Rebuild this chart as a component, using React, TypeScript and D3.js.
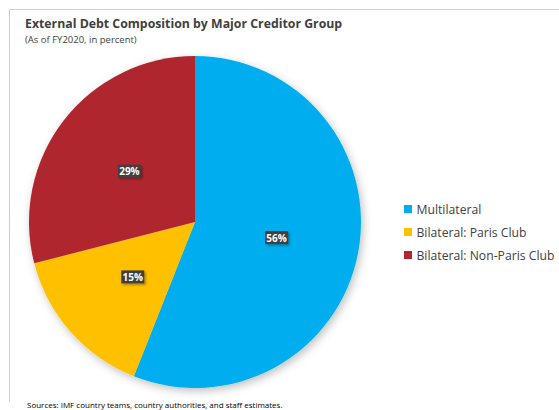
import React from "react";
import * as d3 from "d3";

const categories = ["Multilateral", "Bilateral: Paris Club", "Bilateral: Non-Paris Club"];
const values = [56, 15, 29];
const colors = ["#00AEEF", "#FFC000", "#B0272F"];

export default function App() {
  const W = 559, H = 410;
  const cx = 195, cy = 222, r = 166;
  const pie = d3.pie<number>().sort(null).value((d) => d);
  const arcs = pie(values);
  const arc = d3.arc<d3.PieArcDatum<number>>().innerRadius(0).outerRadius(r);
  const font = "'Open Sans', 'Liberation Sans', sans-serif";
  return (
    <svg width={W} height={H} style={{ position: "absolute", left: 0, top: 0 }}>
      <defs>
        <filter id="pieShadow" x="-20%" y="-20%" width="140%" height="140%">
          <feDropShadow dx="2" dy="3" stdDeviation="4" floodColor="#000" floodOpacity="0.25" />
        </filter>
        <filter id="boxShadow" x="-30%" y="-30%" width="160%" height="160%">
          <feDropShadow dx="1.5" dy="1.5" stdDeviation="1" floodColor="#000" floodOpacity="0.35" />
        </filter>
      </defs>
      <rect x={0} y={0} width={W} height={H} fill="#fff" />
      <path d={`M${W},9.5 H9.5 V402`} fill="none" stroke="#d0d0d0" strokeWidth={1} />
      <text x={25} y={28} fontFamily={font} fontWeight="bold" fontSize={12.3} fill="#404040">
        External Debt Composition by Major Creditor Group
      </text>
      <text x={25} y={43} fontFamily={font} fontSize={9.5} fill="#404040">
        (As of FY2020, in percent)
      </text>
      <g transform={`translate(${cx},${cy})`}>
        <g filter="url(#pieShadow)">
          {arcs.map((a, i) => (
            <path key={i} d={arc(a) || ""} fill={colors[i]} />
          ))}
        </g>
        {arcs.map((a, i) => {
          const [lx, ly] = arc.centroid(a);
          return (
            <g key={"l" + i} transform={`translate(${lx},${ly})`}>
              <rect x={-11.5} y={-6.5} width={23} height={13} fill="#404040" filter="url(#boxShadow)" />
              <text x={0} y={4} textAnchor="middle" fontFamily={font} fontWeight="bold" fontSize={10} fill="#fff">
                {values[i]}%
              </text>
            </g>
          );
        })}
      </g>
      <g transform="translate(404,205)">
        {categories.map((c, i) => (
          <g key={c} transform={`translate(0,${i * 23})`}>
            <rect x={0} y={0} width={8} height={8} fill={colors[i]} />
            <text x={12.5} y={9} fontFamily={font} fontSize={12.2} fill="#404040">
              {c}
            </text>
          </g>
        ))}
      </g>
      <text x={27} y={408} fontFamily={font} fontSize={8} fill="#000">
        Sources: IMF country teams, country authorities, and staff estimates.
      </text>
    </svg>
  );
}
